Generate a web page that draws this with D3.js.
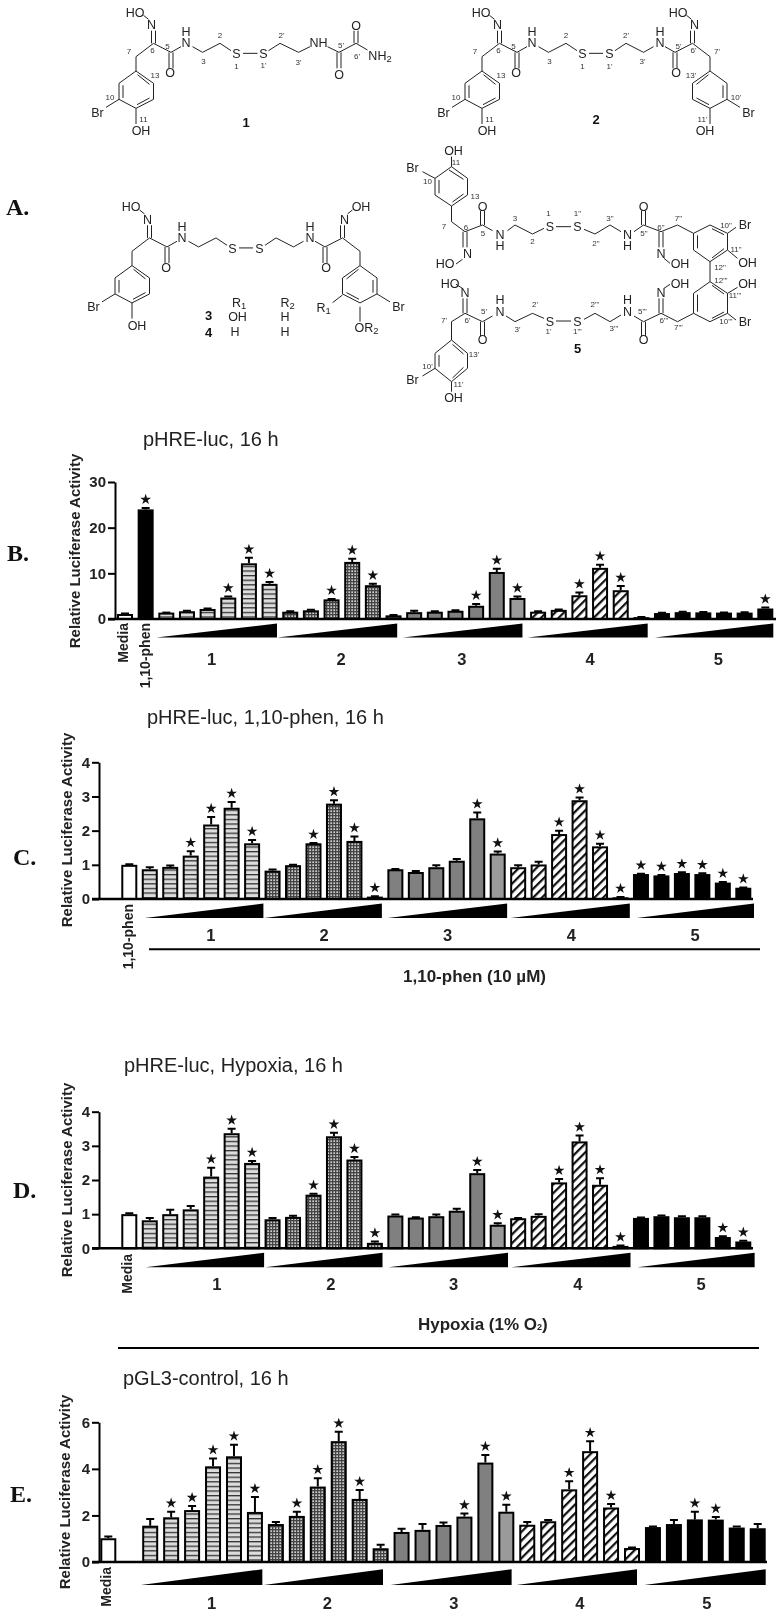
<!DOCTYPE html>
<html>
<head>
<meta charset="utf-8">
<script src="https://cdn.jsdelivr.net/npm/d3@7"></script>
<style>
  html, body { margin: 0; padding: 0; background: #fff; }
  svg { display: block; font-family: "Liberation Sans", Arial, sans-serif; filter: blur(0.35px); }
</style>
</head>
<body>
<svg id="chart" width="783" height="1617"></svg>
<script>
// values, slot by slot (null = empty slot)
const compounds = ["1", "2", "3", "4", "5"];
const yLabel = "Relative Luciferase Activity";

const bValues = [1.1, 24,
  1.4, 1.7, 2.2, 4.7, 12.2, 7.7,
  1.6, 1.9, 4.3, 12.5, 7.4, 0.8,
  1.5, 1.6, 1.8, 2.9, 10.3, 4.6,
  1.6, 2.0, 5.2, 11.2, 6.3, 0.4,
  1.3, 1.5, 1.45, 1.4, 1.4, 2.3];
const bErrors = [0.1, 0.3,
  0, 0.1, 0.1, 0.2, 1.2, 0.4,
  0.1, 0.1, 0.1, 0.7, 0.3, 0.1,
  0.3, 0.1, 0.1, 0.4, 0.7, 0.3,
  0.1, 0.1, 0.6, 0.7, 0.9, 0.05,
  0.05, 0.1, 0.1, 0.05, 0.1, 0.2];
const bStars = [1, 5, 6, 7, 10, 11, 12, 17, 18, 19, 22, 23, 24, 31];
const bTicks = [0, 10, 20, 30];

const cValues = [1.0,
  0.87, 0.94, 1.27, 2.18, 2.67, 1.63,
  0.83, 0.99, 1.63, 2.79, 1.7, 0.07,
  0.87, 0.79, 0.93, 1.12, 2.36, 1.33,
  0.93, 1.01, 1.9, 2.89, 1.54, 0.05,
  0.73, 0.69, 0.76, 0.73, 0.48, 0.33];
const cErrors = [0.02,
  0.06, 0.04, 0.13, 0.22, 0.17, 0.1,
  0.03, 0.01, 0.01, 0.1, 0.13, 0.01,
  0.01, 0.03, 0.06, 0.05, 0.17, 0.06,
  0.06, 0.08, 0.1, 0.08, 0.08, 0.01,
  0.01, 0.01, 0.02, 0.02, 0.02, 0.01];
const cStars = [3, 4, 5, 6, 9, 10, 11, 12, 17, 18, 21, 22, 23, 24, 25, 26, 27, 28, 29, 30];
const cTicks = [0, 1, 2, 3, 4];

const dValues = [1.0,
  0.82, 1.0, 1.14, 2.1, 3.37, 2.5,
  0.85, 0.92, 1.57, 3.28, 2.6, 0.16,
  0.96, 0.9, 0.94, 1.1, 2.2, 0.69,
  0.88, 0.95, 1.93, 3.13, 1.86, 0.07,
  0.89, 0.94, 0.91, 0.91, 0.33, 0.2];
const dErrors = [0.03,
  0.07, 0.13, 0.1, 0.26, 0.13, 0.06,
  0.04, 0.03, 0.03, 0.1, 0.07, 0.04,
  0.03, 0.01, 0.05, 0.06, 0.09, 0.04,
  0.01, 0.05, 0.1, 0.17, 0.19, 0.01,
  0.01, 0.02, 0.03, 0.03, 0.02, 0.02];
const dStars = [4, 5, 6, 9, 10, 11, 12, 17, 18, 21, 22, 23, 24, 29, 30];
const dTicks = [0, 1, 2, 3, 4];

const eValues = [1.02, null,
  1.56, 1.92, 2.23, 4.11, 4.54, 2.15,
  1.63, 1.98, 3.24, 5.19, 2.71, 0.59,
  1.29, 1.38, 1.59, 1.95, 4.27, 2.16,
  1.6, 1.75, 3.12, 4.76, 2.34, 0.6,
  1.5, 1.63, 1.83, 1.82, 1.48, 1.45];
const eErrors = [0.08, null,
  0.29, 0.24, 0.17, 0.34, 0.5, 0.64,
  0.09, 0.18, 0.36, 0.4, 0.38, 0.15,
  0.14, 0.25, 0.11, 0.13, 0.33, 0.3,
  0.12, 0.05, 0.35, 0.43, 0.15, 0.02,
  0.03, 0.17, 0.33, 0.11, 0.05, 0.18];
const eStars = [3, 4, 5, 6, 7, 9, 10, 11, 12, 17, 18, 19, 22, 23, 24, 28, 29];
const eTicks = [0, 2, 4, 6];

const svg = d3.select("#chart");
const defs = svg.append("defs");

// bar fills
const stripes = defs.append("pattern").attr("id", "stripes").attr("patternUnits", "userSpaceOnUse")
  .attr("width", 6).attr("height", 4.6);
stripes.append("rect").attr("width", 6).attr("height", 4.6).attr("fill", "#dcdcdc");
stripes.append("rect").attr("y", 0).attr("width", 6).attr("height", 1.3).attr("fill", "#333");

const dots = defs.append("pattern").attr("id", "dots").attr("patternUnits", "userSpaceOnUse")
  .attr("width", 3).attr("height", 3);
dots.append("rect").attr("width", 3).attr("height", 3).attr("fill", "#444");
dots.append("rect").attr("x", 0.4).attr("y", 0.4).attr("width", 1.5).attr("height", 1.5).attr("fill", "#eee");

const hatch = defs.append("pattern").attr("id", "hatch").attr("patternUnits", "userSpaceOnUse")
  .attr("width", 6.2).attr("height", 6.2).attr("patternTransform", "rotate(45)");
hatch.append("rect").attr("width", 6.2).attr("height", 6.2).attr("fill", "#fff");
hatch.append("rect").attr("width", 2.2).attr("height", 6.2).attr("fill", "#111");

const groupFills = ["url(#stripes)", "url(#dots)", "#808080", "url(#hatch)", "#000"];

const panels = [
  { values: bValues, errors: bErrors, stars: bStars, ticks: bTicks, yMax: 30,
    lead: { 0: "#fff", 1: "#000" }, first: 2, titleText: "pHRE-luc, 16 h", titleX: 143, titleY: 439,
    letter: "B.", letterX: 7, letterY: 553,
    xRange: [125, 765.3], yRange: [619, 482], axisX: 115, baseline: [108, 776],
    yLabelX: 74, yLabelY: 551,
    leadLabels: [["Media", 123, 623], ["1,10-phen", 145, 623]],
    wedgeY: [623.5, 637.5],
    wedgePads: [[10, 7.4], [13, 3.7], [11.3, 5], [10.6, 6.3], [7.3, 8]],
    labelY: 659, labelShift: [-6.3, -0.8, -4, 0.3, 4.6] },
  { values: cValues, errors: cErrors, stars: cStars, ticks: cTicks, yMax: 4,
    lead: { 0: "#fff" }, first: 1, titleText: "pHRE-luc, 1,10-phen, 16 h", titleX: 147, titleY: 717,
    letter: "C.", letterX: 13, letterY: 857,
    xRange: [129.3, 743.3], yRange: [899, 762.3], axisX: 99, baseline: [92, 753],
    yLabelX: 66.7, yLabelY: 830,
    leadLabels: [["1,10-phen", 128, 904]],
    wedgeY: [903.5, 918],
    wedgePads: [[5, 11.3], [8.4, 7], [7.7, 9.4], [7.6, 9.3], [4.3, 10.7]],
    labelY: 935, labelShift: [10, 0.3, 1, 2, 3] },
  { values: dValues, errors: dErrors, stars: dStars, ticks: dTicks, yMax: 4,
    lead: { 0: "#fff" }, first: 1, titleText: "pHRE-luc, Hypoxia, 16 h", titleX: 124, titleY: 1065,
    letter: "D.", letterX: 13, letterY: 1190,
    xRange: [129.3, 743.3], yRange: [1248.3, 1111.7], axisX: 99, baseline: [92, 753],
    yLabelX: 66.7, yLabelY: 1180,
    leadLabels: [["Media", 126.7, 1254]],
    wedgeY: [1252.7, 1267.3],
    wedgePads: [[4.3, 12], [7.4, 7.6], [7, 10.3], [7, 10], [3.6, 11.3]],
    labelY: 1284, labelShift: [16, 7, 7, 8.5, 9] },
  { values: eValues, errors: eErrors, stars: eStars, ticks: eTicks, yMax: 6,
    lead: { 0: "#fff" }, first: 2, titleText: "pGL3-control, 16 h", titleX: 123, titleY: 1378,
    letter: "E.", letterX: 10, letterY: 1494,
    xRange: [108.3, 757.7], yRange: [1562, 1422.3], axisX: 99, baseline: [92, 767],
    yLabelX: 64, yLabelY: 1492,
    leadLabels: [["Media", 106, 1567]],
    wedgeY: [1569.3, 1585],
    wedgePads: [[9.3, 7.4], [12, 2.4], [11, 5.3], [10.7, 5], [8.7, 8]],
    labelY: 1603, labelShift: [9, -1, 0, 0.3, 1.5] }
];

const star = d3.symbol().type(d3.symbolStar).size(36);

panels.forEach(p => {
  const slots = d3.range(p.values.length);
  const x = d3.scalePoint().domain(slots).range(p.xRange);
  const y = d3.scaleLinear().domain([0, p.yMax]).range(p.yRange);
  const g = svg.append("g");

  const fillFor = i => {
    if (i < p.first) return p.lead[i];
    const k = i - p.first;
    const group = Math.floor(k / 6);
    if (group === 2 && k % 6 === 5) return "#9a9a9a";
    return groupFills[group];
  };

  const used = slots.filter(i => p.values[i] !== null);

  // error bars under the bars
  g.append("g").selectAll("path").data(used).join("path")
    .attr("fill", "none").attr("stroke", "#000").attr("stroke-width", 2)
    .attr("d", i => {
      const top = y(p.values[i] + p.errors[i]);
      return `M${x(i)},${y(p.values[i])}V${top}M${x(i) - 4},${top}H${x(i) + 4}`;
    });

  g.append("g").selectAll("rect").data(used).join("rect")
    .attr("x", i => x(i) - 7)
    .attr("y", i => y(p.values[i]) + 1)
    .attr("width", 14)
    .attr("height", i => Math.max(0, y(0) - y(p.values[i]) - 1))
    .attr("fill", fillFor)
    .attr("stroke", "#000")
    .attr("stroke-width", 2);

  g.append("g").selectAll("path").data(p.stars).join("path")
    .attr("d", star)
    .attr("fill", "#111")
    .attr("transform", i => `translate(${x(i)},${y(p.values[i] + p.errors[i]) - 8.5})`);

  // axes
  g.append("line")
    .attr("x1", p.baseline[0]).attr("x2", p.baseline[1])
    .attr("y1", y(0)).attr("y2", y(0))
    .attr("stroke", "#000").attr("stroke-width", 2.4);

  const axis = g.append("g")
    .attr("transform", `translate(${p.axisX},0)`)
    .call(d3.axisLeft(y).tickValues(p.ticks).tickFormat(d3.format("d")).tickSize(7).tickSizeOuter(0).tickPadding(2));
  axis.select(".domain").attr("stroke", "#000").attr("stroke-width", 2);
  axis.selectAll(".tick line").attr("stroke", "#000").attr("stroke-width", 2);
  axis.selectAll(".tick text")
    .attr("font-family", "Liberation Sans").attr("font-size", 15).attr("font-weight", "bold").attr("fill", "#222");

  // y label
  g.append("text")
    .attr("transform", `translate(${p.yLabelX},${p.yLabelY}) rotate(-90)`)
    .attr("text-anchor", "middle").attr("dominant-baseline", "central")
    .attr("font-size", 15).attr("font-weight", "bold").attr("fill", "#222")
    .text(yLabel);

  // rotated labels of the lead bars
  p.leadLabels.forEach(([label, lx, ly]) => {
    g.append("text")
      .attr("transform", `translate(${lx},${ly}) rotate(-90)`)
      .attr("text-anchor", "end").attr("dominant-baseline", "central")
      .attr("font-size", 14).attr("font-weight", "bold").attr("fill", "#222")
      .text(label);
  });

  // dose wedges and compound numbers
  compounds.forEach((name, n) => {
    const firstSlot = p.first + n * 6;
    const lastSlot = firstSlot + 5;
    const [padL, padR] = p.wedgePads[n];
    const x0 = x(firstSlot) - padL;
    const x1 = x(lastSlot) + padR;
    g.append("path")
      .attr("d", `M${x0},${p.wedgeY[1]}L${x1},${p.wedgeY[1]}L${x1},${p.wedgeY[0]}Z`)
      .attr("fill", "#000");
    g.append("text")
      .attr("x", (x(firstSlot) + x(lastSlot)) / 2 + p.labelShift[n])
      .attr("y", p.labelY)
      .attr("text-anchor", "middle").attr("dominant-baseline", "central")
      .attr("font-size", 16.5).attr("font-weight", "bold").attr("fill", "#222")
      .text(name);
  });

  // title and panel letter
  g.append("text").attr("x", p.titleX).attr("y", p.titleY)
    .attr("dominant-baseline", "central")
    .attr("font-size", 20).attr("fill", "#222")
    .text(p.titleText);
  g.append("text").attr("x", p.letterX).attr("y", p.letterY)
    .attr("dominant-baseline", "central")
    .attr("font-family", "Liberation Serif").attr("font-weight", "bold")
    .attr("font-size", 24).attr("fill", "#111")
    .text(p.letter);
});

// condition captions under panels C and D
svg.append("line").attr("x1", 149).attr("x2", 760).attr("y1", 949.3).attr("y2", 949.3)
  .attr("stroke", "#000").attr("stroke-width", 2);
svg.append("text").attr("x", 403).attr("y", 976).attr("dominant-baseline", "central")
  .attr("font-size", 17).attr("font-weight", "bold").attr("fill", "#222")
  .text("1,10-phen (10 µM)");
svg.append("line").attr("x1", 118).attr("x2", 759).attr("y1", 1348).attr("y2", 1348)
  .attr("stroke", "#000").attr("stroke-width", 2);
const hypoxia = svg.append("text").attr("x", 418).attr("y", 1324).attr("dominant-baseline", "central")
  .attr("font-size", 17).attr("font-weight", "bold").attr("fill", "#222");
hypoxia.append("tspan").text("Hypoxia (1% O");
hypoxia.append("tspan").attr("font-size", 9).attr("dy", 3).text("2");
hypoxia.append("tspan").attr("dy", -3).text(")");

// ---- structures (panel A) ----
const chem = svg.append("g");
const line2 = d3.line();
const atomSize = 12.5;
const numberSize = 8;

function bonds(list, t) {
  chem.append("path")
    .attr("d", list.map(b => line2(b.map(q => t(q[0], q[1])))).join(""))
    .attr("fill", "none").attr("stroke", "#222").attr("stroke-width", 1);
}

// text; label may be [main, sub] for a subscript, or {stack: [upper, lower]} for atoms set above each other
function atoms(list, t, size, colour, weight) {
  list.forEach(([label, ax, ay]) => {
    const [sx, sy] = t(ax, ay);
    const el = chem.append("text").attr("x", sx).attr("y", sy)
      .attr("text-anchor", "middle").attr("dominant-baseline", "central")
      .attr("font-size", size).attr("fill", colour || "#222").attr("font-weight", weight || "normal");
    if (label.stack) {
      el.append("tspan").attr("x", sx).attr("y", sy - 5.7).attr("dominant-baseline", "central").text(label.stack[0]);
      el.append("tspan").attr("x", sx).attr("y", sy + 5.7).attr("dominant-baseline", "central").text(label.stack[1]);
    } else if (Array.isArray(label)) {
      el.append("tspan").text(label[0]);
      el.append("tspan").attr("font-size", size * 0.75).attr("dy", 3).text(label[1]);
    } else {
      el.text(label);
    }
  });
}

// one half of the bromotyrosine-cystamine skeleton
const halfBonds = [
  [[272, 213], [307, 250], [307, 298], [272, 325], [238, 298], [238, 250], [272, 213]],
  [[246, 256], [246, 294]], [[299, 294], [274, 314]], [[275, 224], [299, 253]],
  [[272, 213], [272, 170], [307, 130], [342, 157], [362, 140]],
  [[338, 157], [338, 205]], [[346, 157], [346, 205]],
  [[303, 130], [303, 92]], [[311, 130], [311, 92]],
  [[385, 140], [405, 157], [440, 130], [462, 152]],
  [[486, 160], [500, 160]],
  [[238, 298], [212, 322]]
];
const halfAtoms = [
  ["N", 303, 75], [{ stack: ["H", "N"] }, 372, 113], ["O", 340, 220], ["S", 473, 162], ["Br", 195, 338]
];
const halfNumbers = [
  ["7", 258, 155], ["6", 305, 152], ["5", 335, 138], ["3", 407, 185], ["2", 440, 107],
  ["1", 473, 200], ["13", 310, 225], ["10", 220, 292], ["11", 287, 357]
];

function half(opts) {
  const t = (px, py) => [((opts.mirror ? 1000 - px : px) + opts.dx) / 2, py / 3 + opts.dy];
  bonds(halfBonds, t);
  atoms(halfAtoms, t, atomSize);
  const flip = px => (opts.flipOxime ? 606 - px : px);
  bonds([[[flip(297), 58], [flip(287), 46]]], t);
  atoms([[opts.oxime || "HO", flip(270), 38]], t, atomSize);
  if (opts.phenol !== false) {
    bonds([[[272, 325], [272, 372]]], t);
    atoms([["OH", 282, 393]], t, atomSize);
  }
  if (opts.numbers) {
    atoms(halfNumbers.map(([n, a, b]) => [opts.mirror ? n + "'" : n, a, b]), t, numberSize, "#333");
  }
}

const z1 = (px, py) => [px / 2, py / 3];
const z2 = (px, py) => [px / 2, py / 3 + 150];

// compound 1
half({ dx: 0, dy: 0, numbers: true });
bonds([
  [[500, 160], [515, 160]],
  [[537, 152], [560, 130], [597, 157], [620, 140]],
  [[655, 140], [678, 157], [712, 130], [735, 150]],
  [[674, 157], [674, 205]], [[682, 157], [682, 205]],
  [[708, 130], [708, 92]], [[716, 130], [716, 92]]
], z1);
atoms([["S", 527, 162], ["NH", 637, 130], ["O", 678, 225], ["O", 712, 78], [["NH", "2"], 760, 168]], z1, atomSize);
atoms([["1'", 527, 197], ["2'", 563, 107], ["3'", 597, 187], ["5'", 682, 135], ["6'", 714, 170]], z1, numberSize, "#333");
atoms([["1", 492, 368]], z1, 13, "#111", "bold");

// compound 2
half({ dx: 692, dy: 0, numbers: true });
half({ dx: 692, dy: 0, numbers: true, mirror: true, flipOxime: true });
atoms([["2", 1192, 358]], z1, 13, "#111", "bold");

// compounds 3 and 4
half({ dx: -8, dy: 194.6 });
half({ dx: -8, dy: 194.6, mirror: true, oxime: "OH", phenol: false });
bonds([[[720, 470], [720, 515]], [[685, 435], [665, 458]]], z2);
atoms([
  [["OR", "2"], 733, 535], [["R", "1"], 647, 475],
  [["R", "1"], 478, 458], [["R", "2"], 575, 458],
  ["OH", 475, 502], ["H", 570, 502], ["H", 470, 547], ["H", 570, 547]
], z2, atomSize);
atoms([["3", 417, 497], ["4", 417, 547]], z2, 13, "#111", "bold");

// compound 5
bonds([
  // top left ring and chain
  [[903, 168], [935, 135], [935, 85], [903, 50], [870, 85], [870, 135], [903, 168]],
  [[878, 90], [878, 130]], [[898, 60], [927, 88]], [[927, 132], [905, 156]],
  [[903, 50], [903, 20]], [[870, 85], [845, 65]],
  [[903, 168], [903, 215], [930, 245], [965, 225], [985, 242]],
  [[961, 225], [961, 182]], [[969, 225], [969, 182]],
  [[926, 245], [926, 292]], [[934, 245], [934, 292]],
  [[925, 328], [912, 342]],
  [[1015, 242], [1030, 225], [1065, 252], [1088, 235]],
  [[1112, 230], [1142, 230]],
  [[1168, 238], [1190, 252], [1220, 225], [1242, 245]],
  [[1268, 245], [1287, 225], [1322, 245], [1355, 225], [1387, 250]],
  [[1283, 225], [1283, 182]], [[1291, 225], [1291, 182]],
  [[1318, 245], [1318, 292]], [[1326, 245], [1326, 292]],
  [[1328, 325], [1340, 340]],
  // biaryl rings
  [[1387, 250], [1420, 225], [1455, 250], [1455, 300], [1420, 335], [1387, 300], [1387, 250]],
  [[1395, 256], [1395, 295]], [[1424, 236], [1448, 254]], [[1448, 296], [1424, 324]],
  [[1455, 250], [1472, 232]], [[1455, 300], [1475, 325]],
  [[1420, 335], [1420, 395]],
  [[1420, 395], [1455, 430], [1455, 490], [1420, 515], [1387, 490], [1387, 430], [1420, 395]],
  [[1395, 434], [1395, 485]], [[1424, 406], [1448, 432]], [[1448, 486], [1424, 505]],
  [[1455, 430], [1475, 412]], [[1455, 490], [1472, 510]],
  // lower chain
  [[1387, 490], [1355, 515], [1322, 490], [1287, 515], [1268, 498]],
  [[1283, 515], [1283, 558]], [[1291, 515], [1291, 558]],
  [[1318, 490], [1318, 445]], [[1326, 490], [1326, 445]],
  [[1328, 415], [1340, 403]],
  [[1242, 495], [1220, 515], [1190, 490], [1168, 508]],
  [[1112, 513], [1142, 513]],
  [[1088, 505], [1065, 490], [1030, 515], [1012, 498]],
  [[985, 498], [965, 515], [930, 490], [903, 515], [903, 570]],
  [[961, 515], [961, 558]], [[969, 515], [969, 558]],
  [[926, 490], [926, 445]], [[934, 490], [934, 445]],
  [[925, 415], [912, 403]],
  // bottom left ring
  [[903, 570], [935, 610], [935, 655], [903, 695], [870, 655], [870, 610], [903, 570]],
  [[878, 615], [878, 650]], [[905, 583], [927, 612]], [[927, 652], [905, 684]],
  [[903, 695], [903, 725]], [[870, 655], [845, 678]]
], z2);
atoms([
  ["OH", 907, 2], ["Br", 825, 55], ["O", 965, 170], ["N", 935, 313], ["HO", 890, 343],
  [{ stack: ["N", "H"] }, 1000, 271], ["S", 1100, 230], ["S", 1155, 230],
  [{ stack: ["N", "H"] }, 1255, 271], ["O", 1287, 170], ["N", 1322, 313], ["OH", 1360, 343],
  ["Br", 1490, 225], ["OH", 1495, 340], ["OH", 1495, 403], ["Br", 1490, 517],
  ["N", 1322, 430], ["OH", 1360, 403], ["O", 1287, 570], [{ stack: ["H", "N"] }, 1255, 468],
  ["S", 1155, 515], ["S", 1100, 515], [{ stack: ["H", "N"] }, 1000, 468],
  ["O", 965, 570], ["N", 930, 430], ["HO", 900, 403], ["Br", 825, 690], ["OH", 907, 745]
], z2, atomSize);
atoms([
  ["11", 912, 37], ["10", 855, 95], ["13", 950, 138], ["7", 888, 228], ["6", 932, 232], ["5", 966, 250],
  ["3", 1030, 205], ["2", 1065, 275], ["1", 1097, 190], ["1\"", 1155, 190], ["2\"", 1192, 280], ["3\"", 1220, 205],
  ["5\"", 1288, 250], ["6\"", 1322, 232], ["7\"", 1357, 205], ["10\"", 1452, 225], ["11\"", 1472, 298], ["12\"", 1440, 352],
  ["12\"'", 1442, 390], ["11\"'", 1470, 435], ["10\"'", 1452, 515], ["7\"'", 1357, 533], ["6\"'", 1328, 510], ["5\"'", 1285, 485],
  ["3\"'", 1228, 535], ["2\"'", 1190, 462], ["1\"'", 1155, 543], ["1'", 1097, 545], ["2'", 1070, 462], ["3'", 1035, 537],
  ["5'", 968, 485], ["6'", 935, 510], ["7'", 888, 512], ["13'", 948, 612], ["10'", 855, 648], ["11'", 917, 703]
], z2, numberSize, "#333");
atoms([["5", 1155, 595]], z2, 13, "#111", "bold");

chem.append("text").attr("x", 6).attr("y", 207).attr("dominant-baseline", "central")
  .attr("font-family", "Liberation Serif").attr("font-weight", "bold")
  .attr("font-size", 24).attr("fill", "#111").text("A.");
</script>
</body>
</html>
